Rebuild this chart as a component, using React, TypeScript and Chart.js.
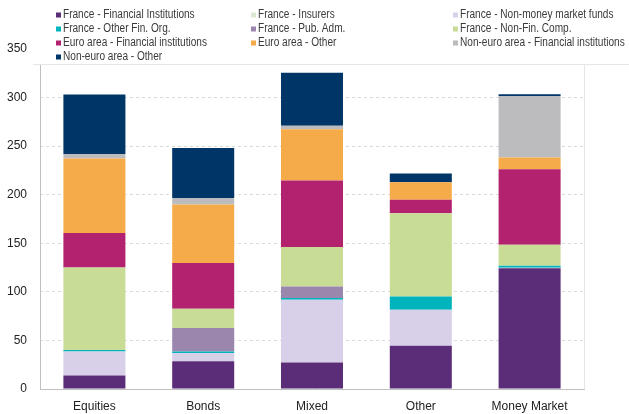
import React, { useEffect, useRef } from "react";
import { Chart, registerables } from "chart.js";

Chart.register(...registerables);

const categories = ["Equities", "Bonds", "Mixed", "Other", "Money Market"];

const seriesNames = [
  "France - Financial Institutions",
  "France - Insurers",
  "France - Non-money market funds",
  "France - Other Fin. Org.",
  "France - Pub. Adm.",
  "France - Non-Fin. Comp.",
  "Euro area - Financial institutions",
  "Euro area - Other",
  "Non-euro area - Financial institutions",
  "Non-euro area - Other",
];

const franceFinancialInstitutions = [14, 28.5, 27.4, 44.6, 124.4];
const franceInsurers = [0, 0, 0, 0, 0];
const franceNonMoneyMarketFunds = [24.7, 8.5, 64.5, 37, 0.4];
const franceOtherFinOrg = [1.5, 1.7, 1.7, 13.7, 2.0];
const francePubAdm = [0, 24, 12, 0, 0];
const franceNonFinComp = [85, 20, 40.5, 85.7, 21.6];
const euroAreaFinancialInstitutions = [35.3, 47, 68.6, 13.7, 77.9];
const euroAreaOther = [76.8, 60.3, 52.8, 18.2, 12];
const nonEuroFinancialInstitutions = [4.5, 6.5, 3.4, 0, 63.4];
const nonEuroOther = [61.3, 51.5, 54.6, 8.9, 1.7];

const seriesValues = [
  franceFinancialInstitutions,
  franceInsurers,
  franceNonMoneyMarketFunds,
  franceOtherFinOrg,
  francePubAdm,
  franceNonFinComp,
  euroAreaFinancialInstitutions,
  euroAreaOther,
  nonEuroFinancialInstitutions,
  nonEuroOther,
];

const seriesColors = [
  "#5b2d78",
  "#dce8cf",
  "#d8d0e8",
  "#00b4bd",
  "#9b86ad",
  "#c8dc96",
  "#b3226e",
  "#f5ab4a",
  "#bcbbbd",
  "#003567",
];

const yTicks = [0, 50, 100, 150, 200, 250, 300, 350];

const FONT = "'Liberation Sans', Arial, sans-serif";

const legendCols = [56, 251, 453];
const legendRows = [15, 29, 43, 57];

const legendPlugin = {
  id: "customLegend",
  afterDraw(chart: any) {
    const ctx = chart.ctx;
    const area = chart.chartArea;
    ctx.save();
    ctx.lineWidth = 1;
    // left axis line (solid)
    ctx.strokeStyle = "#bfbfbf";
    ctx.beginPath();
    ctx.moveTo(Math.round(area.left) + 0.5, 64);
    ctx.lineTo(Math.round(area.left) + 0.5, area.bottom);
    ctx.stroke();
    // plot frame (right side)
    ctx.strokeStyle = "#e6e6e6";
    ctx.beginPath();
    ctx.moveTo(Math.round(area.right) + 0.5, 64);
    ctx.lineTo(Math.round(area.right) + 0.5, area.bottom);
    ctx.stroke();
    // legend box
    ctx.fillStyle = "#ffffff";
    ctx.fillRect(33, 7, 629 - 33, 57);
    ctx.strokeStyle = "#e6e6e6";
    ctx.beginPath();
    ctx.moveTo(33, 64.5);
    ctx.lineTo(629, 64.5);
    ctx.stroke();
    ctx.font = "12px " + FONT;
    ctx.textBaseline = "middle";
    ctx.textAlign = "left";
    chart.data.datasets.forEach((ds: any, i: number) => {
      const col = i % 3;
      const row = Math.floor(i / 3);
      const x = legendCols[col];
      const y = legendRows[row];
      ctx.fillStyle = ds.backgroundColor;
      ctx.fillRect(x, y - 2.5, 5, 5);
      ctx.save();
      ctx.translate(x + 7, y);
      ctx.scale(0.84, 1);
      ctx.fillStyle = "#3a3a3a";
      ctx.fillText(ds.label, 0, 0);
      ctx.restore();
    });
    ctx.restore();
  },
};

export default function App() {
  const ref = useRef<HTMLCanvasElement | null>(null);
  useEffect(() => {
    if (!ref.current) return;
    const chart = new Chart(ref.current, {
      type: "bar",
      data: {
        labels: categories,
        datasets: seriesNames.map((name, i) => ({
          label: name,
          data: seriesValues[i],
          backgroundColor: seriesColors[i],
          borderWidth: 0,
        })),
      },
      options: {
        animation: false,
        responsive: false,
        maintainAspectRatio: false,
        layout: { padding: { top: 49, right: 45, left: 0, bottom: 0 } },
        datasets: { bar: { categoryPercentage: 1, barPercentage: 0.57 } },
        plugins: {
          legend: { display: false },
          tooltip: { enabled: false },
        },
        scales: {
          x: {
            stacked: true,
            grid: { display: false, drawTicks: false },
            border: { display: true, color: "#bfbfbf", width: 1 },
            ticks: {
              color: "#222",
              font: { family: FONT, size: 12 },
              padding: 10,
              maxRotation: 0,
            },
            afterFit: (s: any) => {
              s.height = 25;
            },
          },
          y: {
            stacked: true,
            min: 0,
            max: 350,
            afterBuildTicks: (s: any) => {
              s.ticks = yTicks.map((v) => ({ value: v }));
            },
            grid: {
              color: (c: any) => (c.tick && c.tick.value === 0 ? "rgba(0,0,0,0)" : "#dadada"),
              drawTicks: false,
              lineWidth: 1,
            },
            border: { display: false, dash: [3, 3] },
            ticks: {
              color: "#222",
              font: { family: FONT, size: 12 },
              padding: 13,
            },
            afterFit: (s: any) => {
              s.width = 40;
            },
          },
        },
      },
      plugins: [legendPlugin],
    } as any);
    return () => chart.destroy();
  }, []);
  return (
    <div style={{ position: "fixed", left: 0, top: 0, width: 629, height: 414, background: "#fff" }}>
      <canvas ref={ref} width={629} height={414} style={{ width: 629, height: 414 }} />
    </div>
  );
}
